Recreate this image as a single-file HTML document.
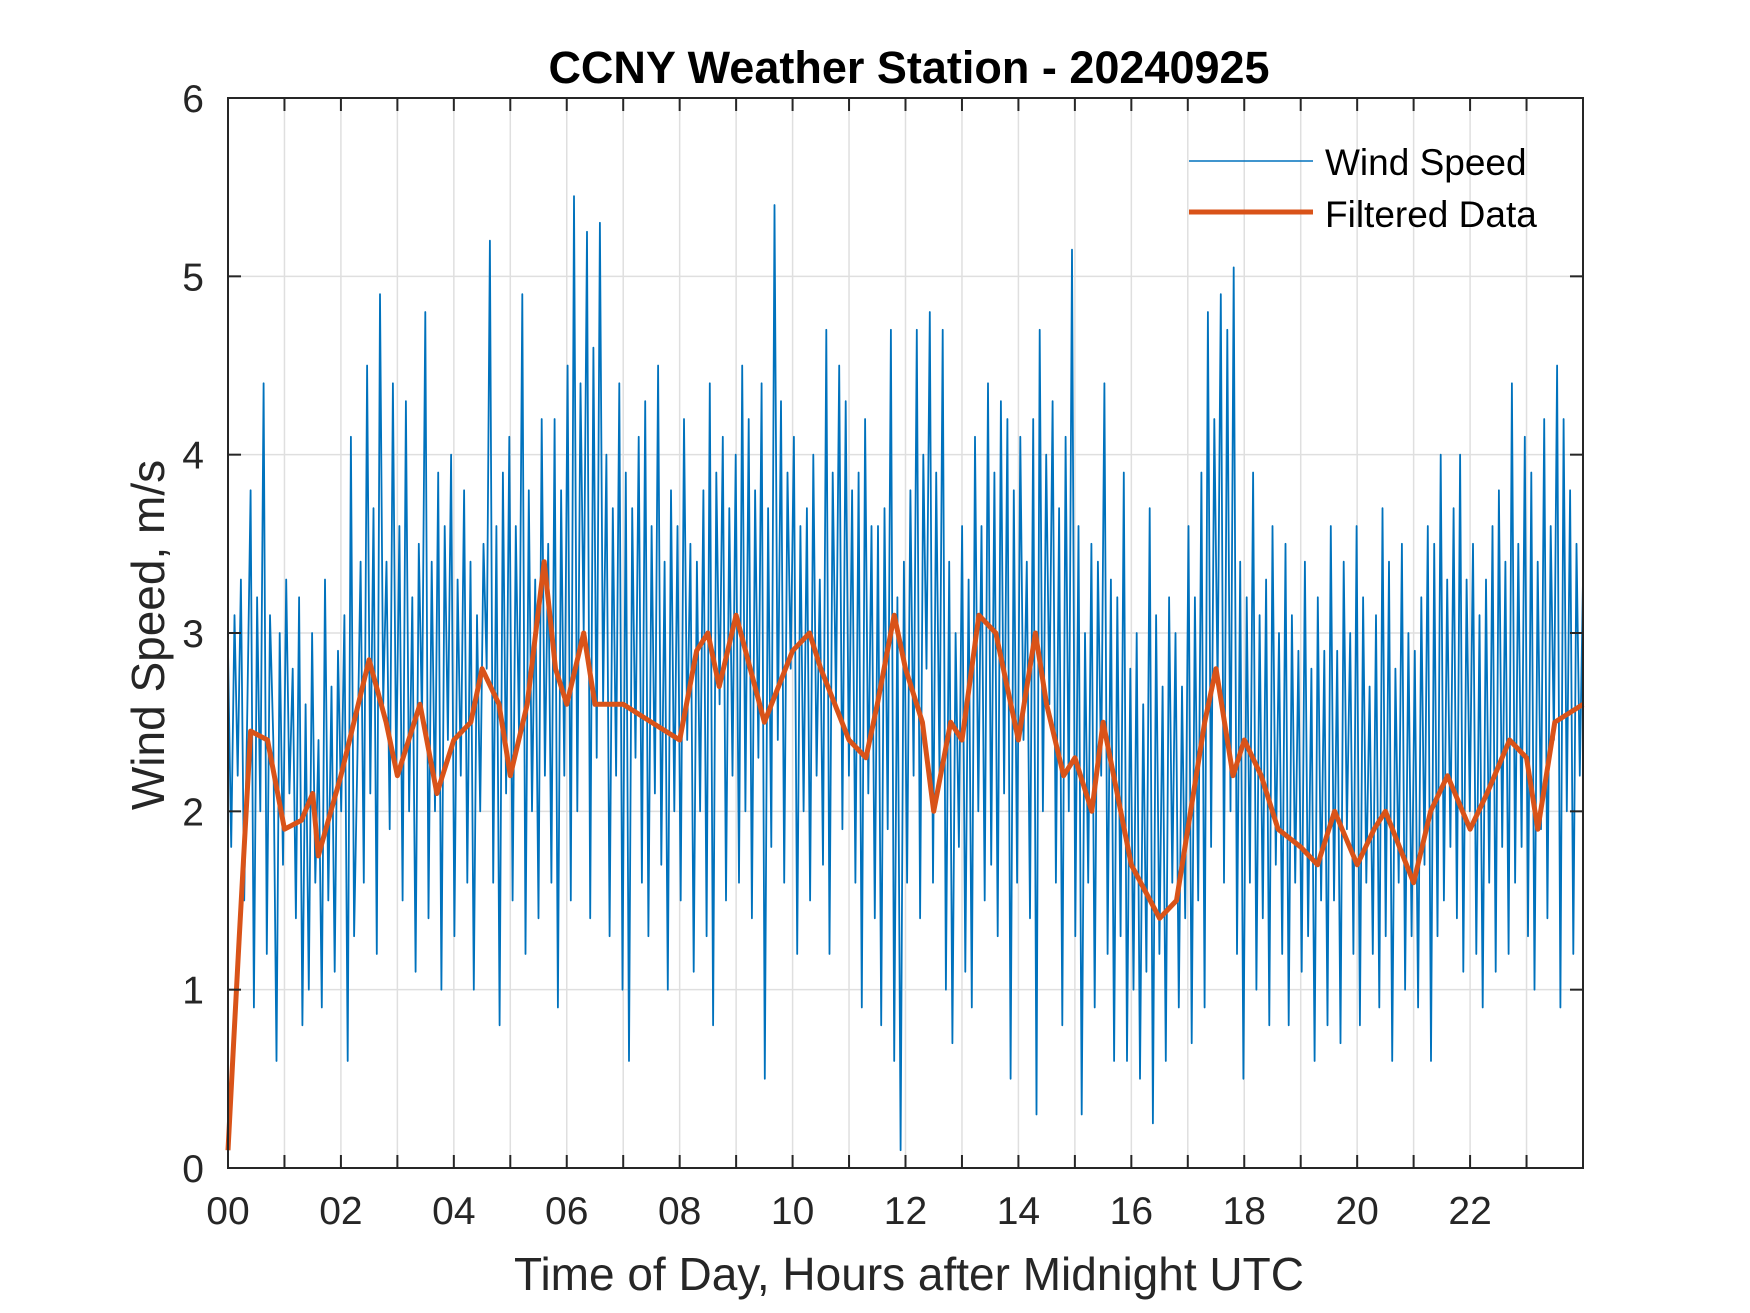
<!DOCTYPE html>
<html><head><meta charset="utf-8"><style>
html,body{margin:0;padding:0;background:#fff;width:1750px;height:1313px;overflow:hidden}
svg{display:block;font-family:"Liberation Sans",Arial,sans-serif}
</style></head><body>
<svg id="chart" width="1750" height="1313" viewBox="0 0 1750 1313" xmlns="http://www.w3.org/2000/svg">
<rect width="1750" height="1313" fill="#fff"/>
<g id="grid"></g>
<g id="plot"></g>
<rect x="228" y="98" width="1355" height="1070" fill="none" stroke="#262626" stroke-width="2"/>
<g id="ticks"></g>
<text x="909" y="83" text-anchor="middle" font-size="45" font-weight="bold" fill="#000">CCNY Weather Station - 20240925</text>
<text x="909" y="1290" text-anchor="middle" font-size="46" fill="#262626">Time of Day, Hours after Midnight UTC</text>
<text transform="translate(164,635) rotate(-90)" text-anchor="middle" font-size="46" fill="#262626">Wind Speed, m/s</text>
<g>
<line x1="1189" y1="161" x2="1313" y2="161" stroke="#0072BD" stroke-width="1.5"/>
<text x="1325" y="175" font-size="37" fill="#000">Wind Speed</text>
<line x1="1189" y1="212" x2="1313" y2="212" stroke="#D95319" stroke-width="5"/>
<text x="1325" y="227" font-size="37" fill="#000">Filtered Data</text>
</g>
</svg>
<script>
const xTicks=[0,2,4,6,8,10,12,14,16,18,20,22];
const xTickLabels=["00","02","04","06","08","10","12","14","16","18","20","22"];
const yTicks=[0,1,2,3,4,5,6];
const filtHours=[0,0.1,0.2,0.4,0.7,1.0,1.3,1.5,1.6,2.0,2.5,2.8,3.0,3.4,3.7,4.0,4.3,4.5,4.8,5.0,5.3,5.6,5.8,6.0,6.3,6.5,7.0,7.5,8.0,8.3,8.5,8.7,9.0,9.5,10.0,10.3,10.5,11.0,11.3,11.5,11.8,12.0,12.3,12.5,12.8,13.0,13.3,13.6,14.0,14.3,14.5,14.8,15.0,15.3,15.5,16.0,16.5,16.8,17.0,17.3,17.5,17.8,18.0,18.3,18.6,19.0,19.3,19.6,20.0,20.3,20.5,21.0,21.3,21.6,22.0,22.3,22.7,23.0,23.2,23.5,24.0];
const filtValues=[0.1,0.7,1.3,2.45,2.4,1.9,1.95,2.1,1.75,2.2,2.85,2.5,2.2,2.6,2.1,2.4,2.5,2.8,2.6,2.2,2.6,3.4,2.8,2.6,3.0,2.6,2.6,2.5,2.4,2.9,3.0,2.7,3.1,2.5,2.9,3.0,2.8,2.4,2.3,2.6,3.1,2.8,2.5,2.0,2.5,2.4,3.1,3.0,2.4,3.0,2.6,2.2,2.3,2.0,2.5,1.7,1.4,1.5,1.9,2.5,2.8,2.2,2.4,2.2,1.9,1.8,1.7,2.0,1.7,1.9,2.0,1.6,2.0,2.2,1.9,2.1,2.4,2.3,1.9,2.5,2.6];
const rawValues=[
2.9,1.8,3.1,2.2,3.3,1.5,2.6,3.8,0.9,3.2,2.0,4.4,1.2,3.1,2.4,0.6,3.0,1.7,3.3,2.1,
2.8,1.4,3.2,0.8,2.6,1.0,3.0,1.6,2.4,0.9,3.3,1.5,2.7,1.1,2.9,2.0,3.1,0.6,4.1,1.3,
2.3,3.4,1.6,4.5,2.1,3.7,1.2,4.9,2.6,3.4,1.9,4.4,2.2,3.6,1.5,4.3,2.0,3.2,1.1,3.5,
2.5,4.8,1.4,3.4,2.0,3.9,1.0,3.6,2.4,4.0,1.3,3.3,2.2,3.8,1.6,3.4,1.0,3.1,2.0,3.5,
2.8,5.2,1.6,3.6,0.8,3.9,2.1,4.1,1.5,3.6,2.4,4.9,1.2,3.8,2.0,3.3,1.4,4.2,2.2,3.5,
1.6,4.2,0.9,3.8,2.2,4.5,1.5,5.45,2.0,4.4,3.0,5.25,1.4,4.6,2.3,5.3,2.6,4.0,1.3,3.7,
2.2,4.4,1.0,3.9,0.6,3.7,2.3,4.1,1.6,4.3,1.3,3.6,2.1,4.5,1.7,3.4,1.0,3.8,2.0,3.6,
1.5,4.2,2.4,3.5,1.1,3.4,2.0,3.8,1.3,4.4,0.8,3.9,2.6,4.1,1.5,3.7,2.2,4.0,1.6,4.5,
2.0,4.2,1.4,3.8,2.3,4.4,0.5,3.7,1.8,5.4,2.4,4.3,1.6,3.9,2.8,4.1,1.2,3.6,2.0,3.7,
1.5,4.0,2.2,3.3,1.7,4.7,1.2,3.9,2.6,4.5,1.9,4.3,2.2,3.8,1.6,3.9,0.9,4.2,2.1,3.6,
1.4,3.6,0.8,3.7,1.9,4.7,0.6,3.2,0.1,3.4,1.6,3.8,2.2,4.7,1.4,4.0,2.8,4.8,1.6,3.9,
2.2,4.7,1.0,3.4,0.7,3.0,1.8,3.6,1.1,3.3,0.9,4.1,2.0,3.6,1.5,4.4,1.7,3.9,1.3,4.3,
2.1,4.2,0.5,3.8,1.6,4.1,2.4,3.4,1.4,4.2,0.3,4.7,2.0,4.0,2.6,4.3,1.6,3.7,0.8,4.1,
2.0,5.15,1.3,3.6,0.3,3.0,1.6,3.5,0.9,3.4,2.2,4.4,1.2,3.3,0.6,3.2,1.3,3.9,0.6,2.8,
1.0,3.0,0.5,2.6,1.1,3.7,0.25,3.1,1.2,2.7,0.6,3.2,1.6,3.0,0.9,2.7,1.4,3.6,0.7,3.2,
1.5,3.9,0.9,4.8,1.8,4.2,2.7,4.9,1.6,4.7,2.0,5.05,1.2,3.4,0.5,3.2,1.6,3.9,1.0,3.1,
1.4,3.3,0.8,3.6,1.7,3.0,1.2,3.5,0.8,3.1,1.6,2.9,1.1,3.4,1.3,2.8,0.6,3.2,1.5,2.9,
0.8,3.6,1.5,2.9,0.7,3.4,1.9,3.0,1.2,3.6,0.8,3.2,1.6,2.7,1.2,3.1,0.9,3.7,1.3,3.4,
0.6,2.8,1.6,3.5,1.0,3.0,1.3,2.9,0.9,3.2,1.7,3.6,0.6,3.5,1.3,4.0,1.5,3.3,1.8,3.7,
1.4,4.0,1.1,3.3,2.0,3.5,1.2,3.1,0.9,3.3,1.6,3.6,1.1,3.8,1.8,3.4,1.2,4.4,1.6,3.5,
1.8,4.1,1.3,3.9,1.0,3.4,1.9,4.2,1.4,3.6,2.4,4.5,0.9,4.2,2.0,3.8,1.2,3.5,2.2,3.3
];
const X0=228,X1=1583,Y0=1168,Y1=98;
const sx=h=>X0+(h/24)*(X1-X0);
const sy=v=>Y0-(v/6)*(Y0-Y1);
const NS="http://www.w3.org/2000/svg";
function mk(tag,attrs,parent){const e=document.createElementNS(NS,tag);for(const k in attrs)e.setAttribute(k,attrs[k]);parent.appendChild(e);return e;}
const grid=document.getElementById('grid'),ticks=document.getElementById('ticks'),plot=document.getElementById('plot');
for(let h=1;h<24;h++){
  const l=mk('line',{x1:sx(h),x2:sx(h),y1:Y1,y2:Y0,stroke:'#dfdfdf','stroke-width':1.5},grid);
  
  
  const t1=mk('line',{x1:sx(h),x2:sx(h),y1:Y0,y2:Y0-13,stroke:'#262626','stroke-width':2},ticks);
  
  
  const t2=mk('line',{x1:sx(h),x2:sx(h),y1:Y1,y2:Y1+13,stroke:'#262626','stroke-width':2},ticks);
  
  
}
yTicks.forEach(v=>{
  if(v>0&&v<6){
    const g=mk('line',{x1:X0,x2:X1,y1:sy(v),y2:sy(v),stroke:'#dfdfdf','stroke-width':1.5},grid);
    
    
    const a=mk('line',{x1:X0,x2:X0+13,y1:sy(v),y2:sy(v),stroke:'#262626','stroke-width':2},ticks);
    
    
    const b=mk('line',{x1:X1,x2:X1-13,y1:sy(v),y2:sy(v),stroke:'#262626','stroke-width':2},ticks);
    
    
  }
  const t=mk('text',{x:X0-24,y:sy(v)+14,'text-anchor':'end','font-size':39,fill:'#262626'},ticks);
  t.textContent=String(v);
  
  
});
xTicks.forEach((h,i)=>{
  const t=mk('text',{x:sx(h),y:Y0+56,'text-anchor':'middle','font-size':39,fill:'#262626'},ticks);
  t.textContent=xTickLabels[i];
  
  
});
const n=rawValues.length;
const rawPts=rawValues.map((v,i)=>sx(i*24/(n-1)).toFixed(1)+','+sy(v).toFixed(1)).join(' ');
const raw=mk('polyline',{points:rawPts,fill:'none',stroke:'#0072BD','stroke-width':1.8,'stroke-linejoin':'round'},plot);


const fPts=filtValues.map((v,i)=>sx(filtHours[i]).toFixed(1)+','+sy(v).toFixed(1)).join(' ');
const f=mk('polyline',{points:fPts,fill:'none',stroke:'#D95319','stroke-width':5,'stroke-linejoin':'round'},plot);


</script>
</body></html>
